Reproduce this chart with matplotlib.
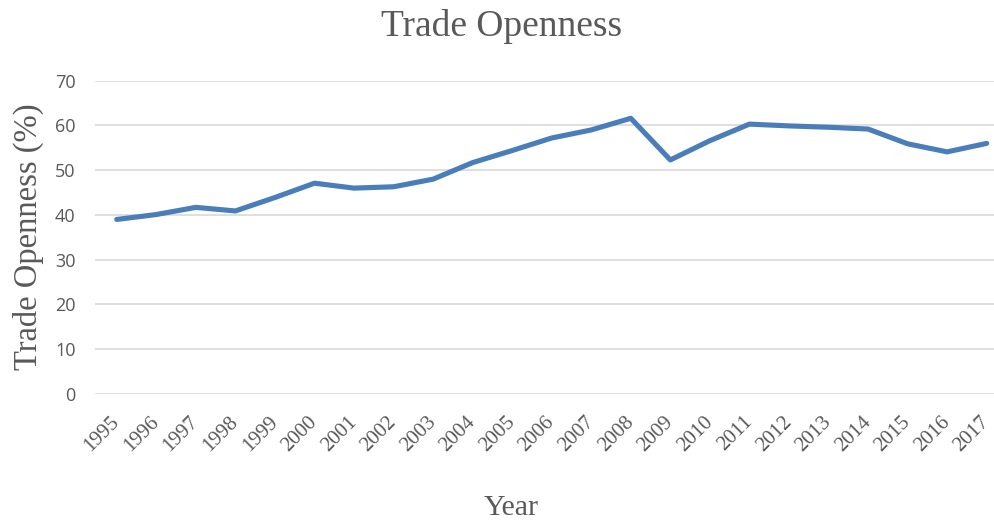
import matplotlib
matplotlib.use("Agg")
import matplotlib.pyplot as plt

# Trade openness (% of GDP), 1995-2017
years = [str(y) for y in range(1995, 2018)]
openness = [39.0, 40.1, 41.7, 40.9, 43.9, 47.1, 46.0, 46.3, 48.0, 51.7, 54.4, 57.2,
            59.0, 61.6, 52.3, 56.6, 60.3, 59.9, 59.6, 59.2, 55.9, 54.1, 56.0]
yticks = [0, 10, 20, 30, 40, 50, 60, 70]

W, H = 995, 523
grey = "#595959"
serif = "Liberation Serif"

fig = plt.figure(figsize=(W / 100, H / 100), dpi=100)
ax = fig.add_axes([95 / W, 1 - 394 / H, 1 - 95 / W, (394 - 80.7) / H])

x = range(len(years))
ax.plot(x, openness, color="#4a7ebb", linewidth=3.7, solid_capstyle="round",
        solid_joinstyle="round", zorder=3)

ax.set_xlim(-0.55, 22.21)
ax.set_ylim(0, 70)
ax.set_yticks(yticks)
ax.set_yticklabels([str(v) for v in yticks], family="Open Sans", fontsize=13, color=grey)
ax.set_xticks(list(x))
ax.set_xticklabels(years, family=serif, fontsize=15, color=grey, rotation=45,
                   ha="right", va="center", rotation_mode="anchor")
ax.tick_params(axis="y", length=0, pad=14)
ax.tick_params(axis="x", length=0, pad=18)

ax.grid(axis="y", color="#d9d9d9", linewidth=1.2)
ax.set_axisbelow(True)
for s in ax.spines.values():
    s.set_visible(False)

fig.text(502 / W, 1 - 27 / H, "Trade Openness", family=serif, fontsize=27,
         color=grey, ha="center", va="center")
fig.text(511 / W, 1 - 508 / H, "Year", family=serif, fontsize=21.5,
         color=grey, ha="center", va="center")
fig.text(28 / W, 1 - 237 / H, "Trade Openness (%)", family=serif, fontsize=23.5,
         color=grey, ha="center", va="center", rotation=90)

fig.savefig("out.png", dpi=100)
